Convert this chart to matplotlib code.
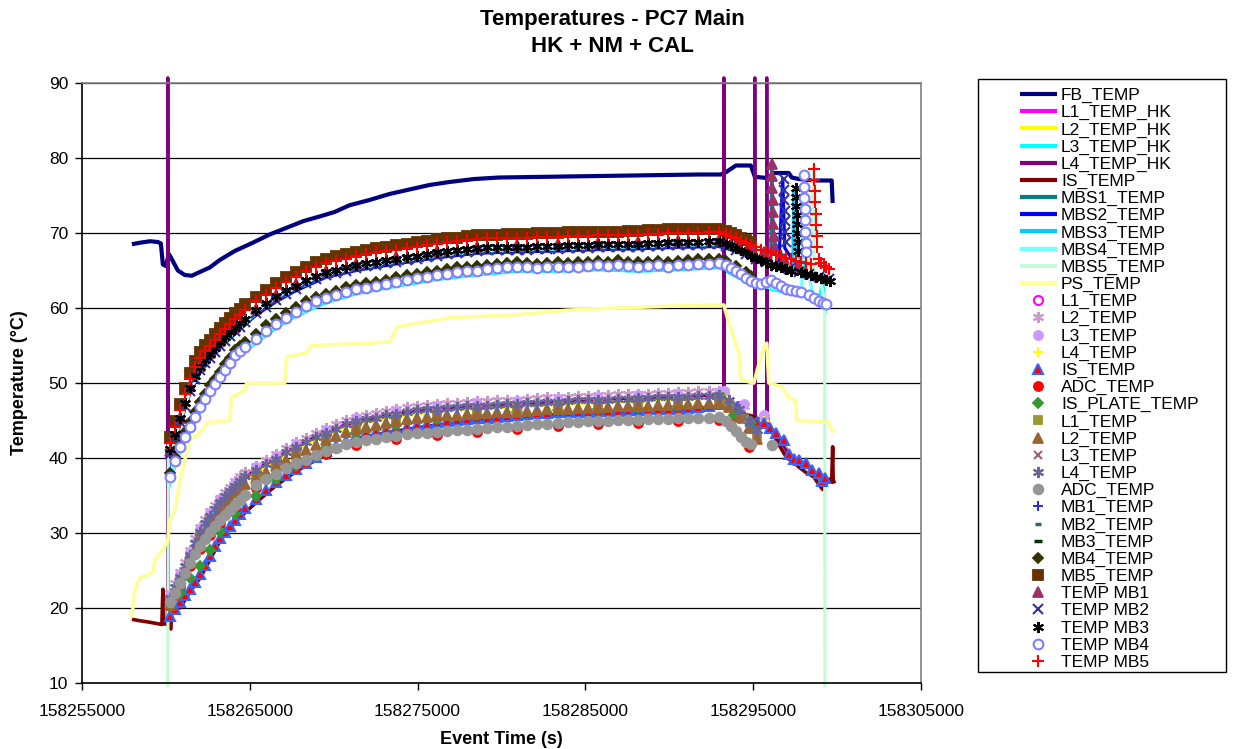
import numpy as np
import matplotlib
matplotlib.use('Agg')
import matplotlib.pyplot as plt
from matplotlib.lines import Line2D
from matplotlib.patches import Rectangle

plt.rcParams['font.family'] = ['Liberation Sans', 'DejaVu Sans']

TITLE_1 = 'Temperatures - PC7 Main'
TITLE_2 = 'HK + NM + CAL'
X_LABEL = 'Event Time (s)'
Y_LABEL = 'Temperature (°C)'
X_TICKS = [158255000, 158265000, 158275000, 158285000, 158295000, 158305000]
X_TICK_LABELS = ['158255000', '158265000', '158275000', '158285000', '158295000', '158305000']
Y_TICKS = [10, 20, 30, 40, 50, 60, 70, 80, 90]
Y_TICK_LABELS = ['10', '20', '30', '40', '50', '60', '70', '80', '90']

# ---------------- shared sample times ----------------
T_BAND = [158260240, 158260540, 158260840, 158261140, 158261440, 158261740, 158262040, 158262340,
          158262640, 158262940, 158263240, 158263540, 158263840, 158264140, 158264440, 158264740,
          158265340, 158265940, 158266540, 158267140, 158267740, 158268340, 158268940, 158269540, 158270140, 158270740,
          158271340, 158271940, 158272540, 158273140, 158273740, 158274340, 158274940, 158275540, 158276140, 158276740,
          158277340, 158277940, 158278540, 158279140, 158279740, 158280340, 158280940, 158281540, 158282140, 158282740,
          158283340, 158283940, 158284540, 158285140, 158285740, 158286340, 158286940, 158287540, 158288140, 158288740,
          158289340, 158289940, 158290540, 158291140, 158291740, 158292340, 158292940]
T_COARSE = [158260240, 158260840, 158261440, 158262040, 158262640, 158263240, 158264140, 158265340,
            158266540, 158267740, 158269540, 158271340, 158273740, 158276140, 158278540, 158280940,
            158283340, 158285740, 158288140, 158290540, 158292940]

# ---------------- HK line series ----------------
FB_T = [158257975, 158258450, 158259045, 158259521, 158259700, 158259819, 158259997, 158260176, 158260355,
        158260711, 158261127, 158261544, 158262020, 158262615, 158263210, 158264102, 158265173, 158266184,
        158267195, 158268207, 158269159, 158270051, 158270943, 158272133, 158273323, 158274513, 158275703,
        158276892, 158278380, 158279867, 158282841, 158285816, 158288790, 158291765, 158293074, 158293371,
        158293966, 158294858, 158295096, 158295929, 158296167, 158297119, 158297297, 158297714, 158298606,
        158299677, 158299736]
FB_V = [68.5, 68.7, 68.9, 68.8, 68.6, 65.8, 65.6, 67.2, 66.5,
        65.0, 64.4, 64.3, 64.8, 65.4, 66.4, 67.6, 68.7, 69.8,
        70.7, 71.6, 72.2, 72.8, 73.7, 74.4, 75.2, 75.8, 76.4,
        76.8, 77.2, 77.4, 77.5, 77.6, 77.7, 77.8, 77.8, 78.1,
        79.0, 79.0, 77.5, 77.3, 78.0, 78.0, 77.4, 77.2, 77.0,
        77.0, 74.0]

L1HK_V = [21.5, 24.3, 27.2, 30.3, 32.4, 34.2, 36.4, 38.5, 40.0, 41.6, 43.5, 45.0, 46.0, 46.7, 47.1, 47.3,
          47.6, 47.9, 48.1, 48.3, 48.5]
HK_TAIL_T = [158294025, 158294858, 158295632, 158296346, 158296821, 158297119, 158297714, 158298487, 158299082]
L1HK_TAIL = [46.6, 44.8, 44.5, 43.1, 42.2, 40.3, 39.5, 38.2, 36.8]
L2HK_V = [21.0, 23.8, 26.7, 29.8, 31.9, 33.7, 35.9, 38.0, 39.5, 41.1, 43.0, 44.5, 45.5, 46.2, 46.6, 46.8,
          47.1, 47.4, 47.6, 47.8, 48.0]
L2HK_TAIL = [46.5, 44.7, 44.4, 43.0, 42.1, 40.2, 39.4, 38.1, 36.7]

L3HK_T0 = [158260176]
L3HK_V0 = [36.0]
L3HK_V = [36.9, 40.9, 43.5, 46.2, 48.4, 50.2, 53.1, 55.3, 57.3, 58.9, 60.7, 61.9, 62.9, 63.8, 64.4, 64.9,
          64.9, 65.1, 64.9, 65.1, 65.4]
L3HK_TAIL_T = [158294144, 158295334, 158297119, 158298309, 158298904, 158299142, 158299320]
L3HK_TAIL = [64.0, 62.8, 62.0, 61.4, 61.0, 63.7, 59.3]

L4HK_T0 = [158259997, 158260116, 158260117, 158260134]
L4HK_V0 = [18.0, 18.0, 90.7, 20.5]
L4HK_V = [21.4, 24.2, 27.1, 30.2, 32.3, 34.1, 36.3, 38.4, 39.9, 41.5, 43.4, 44.9, 45.9, 46.6, 47.0, 47.2,
          47.5, 47.8, 48.0, 48.2, 48.4]
L4HK_TAIL_T = [158293252, 158293253, 158293270, 158294144, 158295096, 158295097, 158295114, 158295810,
               158295811, 158295828, 158296346, 158297119, 158297714, 158298487, 158299082]
L4HK_TAIL = [48.7, 90.7, 48.0, 46.5, 44.7, 90.7, 44.8, 46.0, 90.7, 44.5, 43.3, 40.5, 39.7, 38.4, 37.0]

ISL_T = [158257975, 158258450, 158259045, 158259521, 158259760, 158259820, 158259880, 158260116, 158260295,
         158260355, 158260840, 158261440, 158262040, 158262640, 158263240, 158264140, 158265340, 158266540,
         158267740, 158269540, 158271340, 158273740, 158276140, 158278540, 158280940, 158283340, 158285740,
         158288140, 158290540, 158292940, 158293252, 158294144, 158295156, 158295513, 158295929, 158296524,
         158297000, 158297416, 158297714, 158298190, 158298606, 158298904, 158299142, 158299261, 158299499,
         158299677, 158299736, 158299766, 158299915]
ISL_V = [18.5, 18.3, 18.1, 17.9, 17.8, 22.5, 17.9, 17.8, 17.2,
         20.5, 20.0, 22.2, 24.0, 26.5, 29.0, 31.5, 34.0, 36.3,
         38.2, 40.5, 42.6, 43.6, 44.4, 45.0, 45.4, 45.8, 46.0,
         46.1, 46.3, 46.9, 47.0, 46.0, 45.5, 44.2, 44.5, 41.8,
         40.0, 39.5, 38.8, 38.0, 37.5, 36.5, 35.8, 36.2, 37.2,
         36.8, 41.5, 36.8, 36.9]

MBS_T0 = [158260176]
MBS1_V = [37.5, 40.2, 44.6, 48.8, 51.5, 53.2, 54.8, 56.7, 59.1, 60.9, 62.4, 64.2, 65.1, 66.0, 66.8, 67.4,
          67.6, 67.7, 67.9, 68.0, 68.2, 68.3]
MBS1_TAIL_T = [158294144, 158295334, 158296048, 158296108, 158296168, 158296227, 158297119, 158298309, 158299499]
MBS1_TAIL = [67.6, 66.6, 66.2, 78.8, 72.0, 69.0, 65.5, 64.5, 63.8]
MBS2_V = [38.0, 40.1, 44.5, 48.7, 51.4, 53.1, 54.7, 56.6, 59.0, 60.8, 62.3, 64.1, 65.0, 65.9, 66.7, 67.3,
          67.5, 67.6, 67.8, 67.9, 68.1, 68.2]
MBS2_TAIL_T = [158294144, 158295334, 158296524, 158296762, 158296881, 158297714, 158299499]
MBS2_TAIL = [67.5, 66.5, 65.8, 77.3, 68.0, 65.2, 63.7]
MBS3_V = [38.5, 40.3, 44.7, 48.9, 51.6, 53.3, 54.9, 56.8, 59.2, 61.0, 62.5, 64.3, 65.2, 66.1, 66.9, 67.5,
          67.7, 67.8, 68.0, 68.1, 68.3, 68.4]
MBS3_TAIL_T = [158294144, 158295334, 158296524, 158297357, 158297416, 158297594, 158298309, 158299499]
MBS3_TAIL = [67.7, 66.7, 65.9, 65.3, 75.7, 67.3, 64.8, 64.0]
MBS4_V = [36.5, 37.1, 41.1, 43.7, 46.4, 48.6, 50.4, 53.3, 55.5, 57.5, 59.1, 60.9, 62.1, 63.1, 64.0, 64.6,
          65.1, 65.1, 65.3, 65.1, 65.3, 65.6]
MBS4_TAIL_T = [158294144, 158295334, 158297119, 158297892, 158297952, 158298071, 158298606, 158299261]
MBS4_TAIL = [64.3, 63.0, 62.2, 61.9, 76.5, 67.0, 61.3, 60.3]
MBS5_T0 = [158260116, 158260146]
MBS5_V = [9.4, 42.0, 40.4, 44.8, 49.0, 51.7, 53.4, 55.0, 56.9, 59.3, 61.1, 62.6, 64.4, 65.3, 66.2, 67.0,
          67.6, 67.8, 67.9, 68.1, 68.2, 68.4, 68.5]
MBS5_TAIL_T = [158298309, 158298606, 158298636, 158298904, 158299261, 158299273]
MBS5_TAIL = [64.5, 79.0, 65.0, 64.5, 61.0, 9.4]

PS_T = [158257975, 158258034, 158258153, 158258450, 158259224, 158259342, 158259819, 158260116, 158260235,
        158260533, 158260652, 158260830, 158261127, 158261425, 158262020, 158262496, 158263805, 158263924,
        158264697, 158264816, 158267076, 158267195, 158268385, 158268683, 158272133, 158273323, 158273799,
        158275108, 158276892, 158280878, 158283853, 158286827, 158290753, 158293252, 158293550, 158294144,
        158294263, 158295037, 158295513, 158295810, 158295929, 158296702, 158297119, 158297535, 158297594,
        158299499, 158299677, 158299915]
PS_V = [18.7, 20.0, 22.5, 24.0, 24.7, 26.4, 27.7, 29.0, 31.7,
        33.0, 34.4, 37.0, 39.7, 42.4, 43.3, 44.7, 45.0, 48.1,
        49.0, 50.0, 50.0, 53.5, 54.0, 55.0, 55.3, 55.5, 57.5,
        58.0, 58.7, 59.1, 59.7, 60.0, 60.3, 60.4, 58.0, 54.0,
        50.4, 50.0, 54.0, 55.3, 50.0, 49.5, 48.0, 47.7, 45.0,
        44.8, 43.7, 43.5]

# ---------------- NM marker series ----------------
L1NM_V = [21.2, 24.0, 26.9, 30.0, 32.1, 33.9, 36.1, 38.2, 39.7, 41.3, 43.2, 44.7, 45.7, 46.4, 46.8, 47.0,
          47.3, 47.6, 47.8, 48.0, 48.2]
L1NM_TAIL_T = [158294144, 158295632]
L1NM_TAIL = [47.0, 45.2]

L2NM_V = [22.0, 23.4, 24.8, 26.2, 27.7, 29.3, 30.8, 31.9, 32.9, 33.8, 34.7, 35.5, 36.2, 36.9, 37.6, 38.2,
          39.0, 39.8, 40.5, 41.4, 42.1, 42.7, 43.4, 44.0, 44.5, 45.1,
          45.5, 45.8, 46.0, 46.3, 46.5, 46.8, 47.0, 47.1, 47.2, 47.3,
          47.4, 47.5, 47.6, 47.6, 47.7, 47.8, 47.8, 47.9, 48.0, 48.1,
          48.1, 48.2, 48.3, 48.3, 48.4, 48.4, 48.5, 48.5, 48.6, 48.6,
          48.7, 48.7, 48.8, 48.8, 48.9, 48.9, 49.0]
L2NM_TAIL_T = [158293252, 158294442, 158295632]
L2NM_TAIL = [49.0, 47.0, 45.5]

L3NM_V = [21.8, 24.6, 27.5, 30.6, 32.7, 34.5, 36.7, 38.8, 40.3, 41.9, 43.8, 45.3, 46.3, 47.0, 47.4, 47.6,
          47.9, 48.2, 48.4, 48.6, 48.8]
L3NM_TAIL_T = [158293252, 158294442, 158295632]
L3NM_TAIL = [49.0, 47.2, 45.7]

L4NM_V = [20.8, 23.6, 26.5, 29.6, 31.7, 33.5, 35.7, 37.8, 39.3, 40.9, 42.8, 44.3, 45.3, 46.0, 46.4, 46.6,
          46.9, 47.2, 47.4, 47.6, 47.8]
L4NM_TAIL_T = [158293252, 158295632]
L4NM_TAIL = [48.2, 45.0]

IS_V = [19.0, 19.9, 20.8, 21.7, 22.6, 23.5, 24.6, 25.8, 27.0, 28.3, 29.4, 30.2, 31.0, 31.8, 32.6, 33.3,
        34.5, 35.7, 36.8, 37.8, 38.6, 39.4, 40.1, 40.9, 41.6, 42.3,
        43.0, 43.3, 43.5, 43.8, 44.0, 44.2, 44.4, 44.6, 44.8, 44.9,
        45.1, 45.2, 45.3, 45.4, 45.5, 45.6, 45.8, 45.9, 46.0, 46.0,
        46.1, 46.1, 46.2, 46.2, 46.3, 46.3, 46.3, 46.4, 46.4, 46.5,
        46.5, 46.6, 46.6, 46.7, 46.8, 47.0, 47.2]
IS_TAIL_T = [158293252, 158293728, 158294025, 158294442, 158294858, 158295215, 158295632, 158295989, 158296346,
             158296821, 158297119, 158297416, 158297714, 158298130, 158298487, 158298904, 158299082, 158299261]
IS_TAIL = [47.7, 47.2, 46.8, 45.3, 45.0, 44.8, 44.7, 44.0, 43.3, 42.4, 40.5, 39.9, 39.7, 39.3, 38.4, 38.0, 37.0, 37.3]

ADCNM_V = [20.4, 22.9, 25.6, 27.9, 29.7, 31.3, 33.3, 36.0, 37.5, 38.9, 40.5, 41.8, 42.6, 43.1, 43.5, 43.9,
           44.3, 44.6, 44.7, 44.9, 45.1]
ADCNM_TAIL_T = [158293550, 158294739]
ADCNM_TAIL = [44.8, 41.5]

ISP_V = [20.1, 22.0, 24.0, 25.6, 27.8, 30.2, 32.6, 35.0, 37.2, 39.0, 41.3, 43.4, 44.4, 45.2, 45.7, 46.1,
         46.4, 46.6, 46.7, 46.9, 48.2]
ISP_TAIL_T = [158293550, 158293847, 158294858]
ISP_TAIL = [47.1, 45.7, 44.7]

# ---------------- CAL marker series ----------------
CAL_L_TAIL_T = [158293550, 158294442, 158295215]
L1CAL_V = [20.7, 23.5, 26.4, 29.5, 31.6, 33.4, 35.6, 37.7, 39.2, 40.8, 42.7, 44.2, 45.2, 45.9, 46.3, 46.5,
           46.8, 47.1, 47.3, 47.5, 47.7]
L1CAL_TAIL = [47.2, 45.2, 43.0]
L2CAL_V = [20.4, 21.8, 23.2, 24.6, 26.1, 27.7, 29.2, 30.3, 31.3, 32.2, 33.1, 33.9, 34.6, 35.3, 36.0, 36.6,
           37.4, 38.2, 38.9, 39.8, 40.5, 41.1, 41.8, 42.4, 42.9, 43.5,
           43.9, 44.2, 44.4, 44.7, 44.9, 45.2, 45.4, 45.5, 45.6, 45.7,
           45.8, 45.9, 46.0, 46.0, 46.1, 46.2, 46.2, 46.3, 46.4, 46.5,
           46.5, 46.6, 46.7, 46.7, 46.8, 46.8, 46.9, 46.9, 47.0, 47.0,
           47.1, 47.1, 47.2, 47.2, 47.3, 47.3, 47.4]
L24CAL_TAIL_T = [158293550, 158294144, 158294739, 158295215]
L2CAL_TAIL = [46.8, 45.5, 44.0, 42.6]
L3CAL_V = [21.1, 23.9, 26.8, 29.9, 32.0, 33.8, 36.0, 38.1, 39.6, 41.2, 43.1, 44.6, 45.6, 46.3, 46.7, 46.9,
           47.2, 47.5, 47.7, 47.9, 48.1]
L3CAL_TAIL = [47.4, 45.5, 43.3]
L4CAL_V = [21.4, 22.8, 24.2, 25.6, 27.1, 28.7, 30.2, 31.3, 32.3, 33.2, 34.1, 34.9, 35.6, 36.3, 37.0, 37.6,
           38.4, 39.2, 39.9, 40.8, 41.5, 42.1, 42.8, 43.4, 43.9, 44.5,
           44.9, 45.2, 45.4, 45.7, 45.9, 46.2, 46.4, 46.5, 46.6, 46.7,
           46.8, 46.9, 47.0, 47.0, 47.1, 47.2, 47.2, 47.3, 47.4, 47.5,
           47.5, 47.6, 47.7, 47.7, 47.8, 47.8, 47.9, 47.9, 48.0, 48.0,
           48.1, 48.1, 48.2, 48.2, 48.3, 48.3, 48.4]
L4CAL_TAIL = [47.8, 46.5, 45.0, 43.8]

ADCCAL_V = [20.8, 22.0, 23.3, 24.7, 26.0, 27.2, 28.3, 29.2, 30.1, 30.9, 31.7, 32.4, 33.1, 33.7, 34.4, 35.1,
            36.4, 37.2, 37.9, 38.7, 39.3, 39.8, 40.4, 40.9, 41.4, 41.9,
            42.2, 42.4, 42.6, 42.8, 43.0, 43.2, 43.3, 43.4, 43.5, 43.6,
            43.7, 43.8, 43.9, 44.0, 44.1, 44.2, 44.3, 44.4, 44.5, 44.6,
            44.7, 44.8, 44.8, 44.9, 45.0, 45.0, 45.1, 45.1, 45.1, 45.2,
            45.2, 45.2, 45.3, 45.3, 45.4, 45.4, 45.5]
ADCCAL_TAIL_T = [158293371, 158293669, 158293966, 158294263, 158294561, 158294858, 158296108]
ADCCAL_TAIL = [45.0, 44.3, 43.6, 42.8, 42.1, 41.9, 41.7]

MB_TAIL_T = [158293966, 158294858]
MB1_V = [40.6, 45.0, 49.2, 51.9, 53.6, 55.2, 57.1, 59.5, 61.3, 62.8, 64.6, 65.5, 66.4, 67.2, 67.8, 68.0,
         68.1, 68.3, 68.4, 68.6, 68.7]
MB1_TAIL = [68.2, 67.3]
MB2_V = [40.5, 44.9, 49.1, 51.8, 53.5, 55.1, 57.0, 59.4, 61.2, 62.7, 64.5, 65.4, 66.3, 67.1, 67.7, 67.9,
         68.0, 68.2, 68.3, 68.5, 68.6]
MB2_TAIL = [68.1, 67.2]
MB3_V = [40.7, 45.1, 49.3, 52.0, 53.7, 55.3, 57.2, 59.6, 61.4, 62.9, 64.7, 65.6, 66.5, 67.3, 67.9, 68.1,
         68.2, 68.4, 68.5, 68.7, 68.8]
MB3_TAIL = [68.3, 67.4]
MB4_V = [38.0, 40.2, 42.1, 43.5, 44.8, 46.2, 47.5, 48.6, 49.7, 50.6, 51.5, 52.5, 53.4, 54.4, 55.0, 55.5,
         56.6, 57.7, 58.5, 59.3, 60.1, 60.9, 61.5, 61.9, 62.3, 62.8,
         63.1, 63.3, 63.5, 63.8, 64.1, 64.4, 64.6, 64.8, 65.0, 65.2,
         65.4, 65.5, 65.6, 65.8, 65.9, 66.0, 66.1, 66.0, 65.9, 66.0,
         66.1, 66.0, 66.1, 66.2, 66.3, 66.2, 66.4, 66.2, 66.1, 66.2,
         66.3, 66.1, 66.3, 66.4, 66.5, 66.5, 66.6]
MB4_TAIL_T = [158293371, 158293966, 158294561, 158294858]
MB4_TAIL = [66.3, 65.6, 64.8, 64.3]
MB5_V = [42.8, 45.0, 47.2, 49.4, 51.4, 52.9, 54.1, 55.1, 55.8, 56.6, 57.4, 58.0, 58.7, 59.3, 59.9, 60.5,
         61.5, 62.4, 63.3, 64.1, 64.8, 65.5, 66.1, 66.6, 66.9, 67.2,
         67.5, 67.8, 68.0, 68.2, 68.4, 68.6, 68.8, 69.0, 69.2, 69.3,
         69.4, 69.6, 69.7, 69.8, 69.8, 69.9, 69.9, 69.9, 70.0, 70.0,
         70.0, 70.1, 70.1, 70.1, 70.2, 70.2, 70.2, 70.3, 70.3, 70.4,
         70.4, 70.5, 70.5, 70.5, 70.5, 70.6, 70.6]
MB5_TAIL_T = [158293371, 158293669, 158293966, 158294263, 158294561, 158294858]
MB5_TAIL = [70.3, 70.0, 69.7, 69.4, 69.1, 68.8]

TMB1_V = [41.0, 45.4, 49.6, 52.3, 54.0, 55.6, 57.5, 59.9, 61.7, 63.2, 65.0, 65.9, 66.8, 67.6, 68.2, 68.4,
          68.5, 68.7, 68.8, 69.0, 69.1]
TMB1_TAIL_T = [158293966, 158294858, 158295632, 158296108, 158296128, 158296148, 158296168, 158296188,
               158296208, 158296228, 158296248, 158296821, 158297714]
TMB1_TAIL = [68.6, 68.0, 67.5, 79.2, 77.6, 76.0, 74.4, 72.8, 71.2, 69.6, 68.2, 66.5, 65.5]

TMB2_V = [40.6, 42.6, 44.8, 47.0, 49.0, 50.5, 51.7, 52.7, 53.4, 54.2, 55.0, 55.6, 56.3, 56.9, 57.5, 58.1,
          59.3, 60.2, 61.1, 61.9, 62.6, 63.3, 63.9, 64.4, 64.7, 65.0,
          65.3, 65.6, 65.8, 66.0, 66.2, 66.4, 66.6, 66.8, 67.0, 67.2,
          67.3, 67.5, 67.6, 67.7, 67.7, 67.8, 67.8, 67.8, 67.9, 67.9,
          67.9, 68.0, 68.0, 68.0, 68.1, 68.1, 68.1, 68.2, 68.2, 68.3,
          68.3, 68.4, 68.4, 68.4, 68.4, 68.5, 68.5]
TMB2_TAIL_T = [158293371, 158293966, 158294561, 158295156, 158295751, 158296346, 158296821, 158296841,
               158296861, 158296881, 158296901, 158296921, 158296941, 158297119, 158297714, 158298309,
               158298904, 158299499]
TMB2_TAIL = [68.3, 67.8, 67.2, 66.6, 66.1, 65.6, 77.2, 75.8, 74.4, 73.0, 71.6, 70.2, 68.8, 65.2, 64.8,
             64.5, 64.2, 63.9]

TMB3_V = [41.2, 43.2, 45.3, 47.4, 49.4, 50.9, 52.1, 53.1, 53.9, 54.7, 55.5, 56.1, 56.8, 57.4, 58.0, 58.6,
          59.8, 60.7, 61.6, 62.4, 63.0, 63.7, 64.3, 64.8, 65.1, 65.4,
          65.7, 66.0, 66.2, 66.4, 66.6, 66.8, 67.0, 67.2, 67.4, 67.6,
          67.7, 67.9, 68.0, 68.1, 68.1, 68.2, 68.2, 68.2, 68.3, 68.3,
          68.3, 68.4, 68.4, 68.4, 68.5, 68.5, 68.5, 68.6, 68.6, 68.7,
          68.7, 68.8, 68.8, 68.8, 68.8, 68.9, 68.9]
TMB3_TAIL_T = [158293371, 158293669, 158293966, 158294263, 158294561, 158294858, 158295156, 158295453,
               158295751, 158296048, 158296346, 158296643, 158296940, 158297238, 158297535, 158297555,
               158297575, 158297595, 158297615, 158297635, 158297655, 158297675, 158297833, 158298130,
               158298428, 158298725, 158299023, 158299320, 158299558]
TMB3_TAIL = [68.7, 68.4, 68.0, 67.7, 67.4, 67.0, 66.7, 66.4, 66.1, 65.8, 65.6, 65.4, 65.2, 65.0,
             76.0, 74.8, 73.6, 72.4, 71.2, 70.0, 68.8, 67.6, 64.8, 64.6, 64.4, 64.2, 64.0, 63.8, 63.6]

TMB4_V = [37.5, 39.6, 41.5, 42.8, 44.1, 45.5, 46.8, 47.9, 49.0, 49.9, 50.8, 51.8, 52.7, 53.7, 54.3, 54.8,
          55.9, 57.0, 57.9, 58.7, 59.5, 60.3, 60.9, 61.3, 61.7, 62.2,
          62.5, 62.7, 62.9, 63.2, 63.5, 63.8, 64.0, 64.2, 64.4, 64.6,
          64.8, 64.9, 65.0, 65.2, 65.3, 65.4, 65.5, 65.4, 65.3, 65.4,
          65.5, 65.4, 65.5, 65.6, 65.7, 65.6, 65.8, 65.6, 65.5, 65.6,
          65.7, 65.5, 65.7, 65.8, 65.9, 65.9, 66.0]
TMB4_TAIL_T = [158293371, 158293669, 158293966, 158294263, 158294561, 158294858, 158295156, 158295453,
               158295751, 158296048, 158296346, 158296643, 158296940, 158297238, 158297535, 158297833,
               158298011, 158298031, 158298051, 158298071, 158298091, 158298111, 158298131, 158298151,
               158298309, 158298606, 158298904, 158299142, 158299320]
TMB4_TAIL = [65.7, 65.3, 64.9, 64.5, 64.0, 63.6, 63.3, 63.2, 63.5, 63.7, 63.3, 62.9, 62.6, 62.4, 62.3, 62.1,
             77.7, 76.2, 74.7, 73.2, 71.7, 70.2, 68.7, 67.5, 61.8, 61.4, 61.0, 60.7, 60.5]

TMB5_V = [42.0, 44.2, 46.4, 48.6, 50.6, 52.1, 53.3, 54.3, 55.0, 55.8, 56.6, 57.2, 57.9, 58.5, 59.1, 59.7,
          60.9, 61.8, 62.7, 63.5, 64.2, 64.9, 65.5, 66.0, 66.3, 66.6,
          66.9, 67.2, 67.4, 67.6, 67.8, 68.0, 68.2, 68.4, 68.6, 68.8,
          68.9, 69.1, 69.2, 69.3, 69.3, 69.4, 69.4, 69.4, 69.5, 69.5,
          69.5, 69.6, 69.6, 69.6, 69.7, 69.7, 69.7, 69.8, 69.8, 69.9,
          69.9, 70.0, 70.0, 70.0, 70.0, 70.1, 70.1]
TMB5_TAIL_T = [158293371, 158293669, 158293966, 158294263, 158294561, 158294858, 158295156, 158295453,
               158295751, 158296048, 158296346, 158296643, 158296940, 158297238, 158297535, 158297833,
               158298130, 158298428, 158298600, 158298630, 158298660, 158298690, 158298720, 158298750,
               158298780, 158298810, 158298904, 158299023, 158299201, 158299320, 158299499]
TMB5_TAIL = [69.9, 69.6, 69.3, 69.0, 68.7, 68.4, 68.1, 67.8, 67.6, 67.3, 67.1, 66.9, 66.7, 66.5, 66.3, 66.2,
             66.0, 65.9, 78.6, 77.1, 75.6, 74.1, 72.6, 71.1, 69.6, 68.1, 66.6, 66.0, 65.6, 65.4, 65.2]

ASTER = (6, 2, 0)


def line(color, lw=2.3, clip=True):
    return dict(kind='line', color=color, lw=lw, clip=clip)


def mk(marker, fc, ec=None, ms=6.5, mew=1.3):
    return dict(kind='marker', marker=marker, mfc=fc, mec=ec if ec is not None else fc, ms=ms, mew=mew)


SERIES = [
    ('FB_TEMP', FB_T, FB_V, line('#000080', 3.0)),
    ('L1_TEMP_HK', T_COARSE + HK_TAIL_T, L1HK_V + L1HK_TAIL, line('#FF00FF')),
    ('L2_TEMP_HK', T_COARSE + HK_TAIL_T, L2HK_V + L2HK_TAIL, line('#FFFF00')),
    ('L3_TEMP_HK', L3HK_T0 + T_COARSE + L3HK_TAIL_T, L3HK_V0 + L3HK_V + L3HK_TAIL, line('#00FFFF')),
    ('L4_TEMP_HK', L4HK_T0 + T_COARSE + L4HK_TAIL_T, L4HK_V0 + L4HK_V + L4HK_TAIL, line('#800080', 2.3, False)),
    ('IS_TEMP', ISL_T, ISL_V, line('#800000', 2.6)),
    ('MBS1_TEMP', MBS_T0 + T_COARSE + MBS1_TAIL_T, MBS1_V + MBS1_TAIL, line('#008080')),
    ('MBS2_TEMP', MBS_T0 + T_COARSE + MBS2_TAIL_T, MBS2_V + MBS2_TAIL, line('#0000FF')),
    ('MBS3_TEMP', MBS_T0 + T_COARSE + MBS3_TAIL_T, MBS3_V + MBS3_TAIL, line('#00CCFF')),
    ('MBS4_TEMP', MBS_T0 + T_COARSE + MBS4_TAIL_T, MBS4_V + MBS4_TAIL, line('#70FFFF')),
    ('MBS5_TEMP', MBS5_T0 + T_COARSE + MBS5_TAIL_T, MBS5_V + MBS5_TAIL, line('#C4FAD8', 2.3, False)),
    ('PS_TEMP', PS_T, PS_V, line('#FFFF99', 2.6)),
    ('L1_TEMP', T_COARSE + L1NM_TAIL_T, L1NM_V + L1NM_TAIL, mk('o', 'white', '#FF00FF', 6.5, 1.5)),
    ('L2_TEMP', T_BAND + L2NM_TAIL_T, L2NM_V + L2NM_TAIL, mk(ASTER, '#CC99CC', ms=8, mew=1.5)),
    ('L3_TEMP', T_COARSE + L3NM_TAIL_T, L3NM_V + L3NM_TAIL, mk('o', '#CC99FF', ms=6.5)),
    ('L4_TEMP', T_COARSE + L4NM_TAIL_T, L4NM_V + L4NM_TAIL, mk('+', '#FFFF00', ms=7, mew=1.5)),
    ('IS_TEMP', T_BAND + IS_TAIL_T, IS_V + IS_TAIL, mk('^', '#FF0000', '#3366FF', 7, 1.5)),
    ('ADC_TEMP', T_COARSE + ADCNM_TAIL_T, ADCNM_V + ADCNM_TAIL, mk('o', '#FF0000', ms=6.5)),
    ('IS_PLATE_TEMP', T_COARSE + ISP_TAIL_T, ISP_V + ISP_TAIL, mk('D', '#339933', ms=5.5)),
    ('L1_TEMP', T_COARSE + CAL_L_TAIL_T, L1CAL_V + L1CAL_TAIL, mk('s', '#999933', ms=6)),
    ('L2_TEMP', T_BAND + L24CAL_TAIL_T, L2CAL_V + L2CAL_TAIL, mk('^', '#996633', ms=7)),
    ('L3_TEMP', T_COARSE + CAL_L_TAIL_T, L3CAL_V + L3CAL_TAIL, mk('x', '#996666', ms=6, mew=1.5)),
    ('L4_TEMP', T_BAND + L24CAL_TAIL_T, L4CAL_V + L4CAL_TAIL, mk(ASTER, '#666699', ms=8, mew=1.5)),
    ('ADC_TEMP', T_BAND + ADCCAL_TAIL_T, ADCCAL_V + ADCCAL_TAIL, mk('o', '#969696', ms=7)),
    ('MB1_TEMP', T_COARSE + MB_TAIL_T, MB1_V + MB1_TAIL, mk('+', '#3333CC', ms=7, mew=1.5)),
    ('MB2_TEMP', T_COARSE + MB_TAIL_T, MB2_V + MB2_TAIL, mk('_', '#336666', ms=4, mew=2.5)),
    ('MB3_TEMP', T_COARSE + MB_TAIL_T, MB3_V + MB3_TAIL, mk('_', '#003300', ms=6, mew=2.5)),
    ('MB4_TEMP', T_BAND + MB4_TAIL_T, MB4_V + MB4_TAIL, mk('D', '#333300', ms=5.5)),
    ('MB5_TEMP', T_BAND + MB5_TAIL_T, MB5_V + MB5_TAIL, mk('s', '#663300', ms=6.5)),
    ('TEMP MB1', T_COARSE + TMB1_TAIL_T, TMB1_V + TMB1_TAIL, mk('^', '#993366', ms=7.5)),
    ('TEMP MB2', T_BAND + TMB2_TAIL_T, TMB2_V + TMB2_TAIL, mk('x', '#333399', ms=6.5, mew=1.5)),
    ('TEMP MB3', T_BAND + TMB3_TAIL_T, TMB3_V + TMB3_TAIL, mk(ASTER, '#000000', ms=8, mew=1.5)),
    ('TEMP MB4', T_BAND + TMB4_TAIL_T, TMB4_V + TMB4_TAIL, mk('o', 'white', '#8080FF', 7, 1.5)),
    ('TEMP MB5', T_BAND + TMB5_TAIL_T, TMB5_V + TMB5_TAIL, mk('+', '#FF0000', ms=8, mew=1.5)),
]

W, H = 1246, 749
fig = plt.figure(figsize=(W / 100, H / 100), dpi=100)
ax = fig.add_axes([82 / W, (H - 683) / H, 839 / W, 600 / H])

for label, t, v, st in SERIES:
    t = np.asarray(t, dtype=float)
    v = np.asarray(v, dtype=float)
    if len(t) != len(v):
        raise ValueError(f'{label}: {len(t)} vs {len(v)}')
    if st['kind'] == 'line':
        ax.plot(t, v, color=st['color'], lw=st['lw'], solid_joinstyle='round',
                solid_capstyle='butt', clip_on=st['clip'])
    else:
        ax.plot(t, v, ls='none', marker=st['marker'], ms=st['ms'], mfc=st['mfc'],
                mec=st['mec'], mew=st['mew'])

ax.set_xlim(X_TICKS[0], X_TICKS[-1])
ax.set_ylim(Y_TICKS[0], Y_TICKS[-1])
ax.set_xticks(X_TICKS, X_TICK_LABELS)
ax.set_yticks(Y_TICKS, Y_TICK_LABELS)
ax.tick_params(axis='both', direction='out', length=5, width=1, labelsize=12.5, color='black')
ax.tick_params(axis='x', pad=10)
ax.tick_params(axis='y', pad=5)
ax.yaxis.grid(True, color='black', lw=0.9)
ax.set_axisbelow(True)
for side in ('top', 'right'):
    ax.spines[side].set_color('#808080')
    ax.spines[side].set_linewidth(1.2)
for side in ('left', 'bottom'):
    ax.spines[side].set_color('black')
    ax.spines[side].set_linewidth(1.2)

ax.set_xlabel(X_LABEL, fontsize=13, fontweight='bold', va='baseline')
ax.xaxis.set_label_coords(0.5, -(744.5 - 683) / 600)
ax.set_ylabel(Y_LABEL, fontsize=13, fontweight='bold', va='baseline')
ax.yaxis.set_label_coords(-(82 - 24) / 839, 0.5)

fig.text(612 / W, 1 - 25.5 / H, TITLE_1, ha='center', va='baseline', fontsize=16, fontweight='bold')
fig.text(612 / W, 1 - 52.5 / H, TITLE_2, ha='center', va='baseline', fontsize=16, fontweight='bold')

# legend box drawn from the same series list
fig.add_artist(Rectangle((978 / W, 1 - 672 / H), 248 / W, (672 - 79) / H,
                         transform=fig.transFigure, fill=False, ec='black', lw=1.0))
LEG_Y0, LEG_DY = 94.0, 17.18
for i, (label, t, v, st) in enumerate(SERIES):
    ypx = LEG_Y0 + i * LEG_DY
    y = 1 - ypx / H
    if st['kind'] == 'line':
        fig.add_artist(Line2D([1020 / W, 1057 / W], [y, y], transform=fig.transFigure,
                              color=st['color'], lw=3.0, solid_capstyle='butt'))
    else:
        fig.add_artist(Line2D([1038 / W], [y], transform=fig.transFigure, ls='none',
                              marker=st['marker'], ms=st['ms'], mfc=st['mfc'], mec=st['mec'], mew=st['mew']))
    fig.text(1061 / W, 1 - (ypx + 6.0) / H, label, ha='left', va='baseline', fontsize=12.5)

fig.savefig('out.png', dpi=100)
